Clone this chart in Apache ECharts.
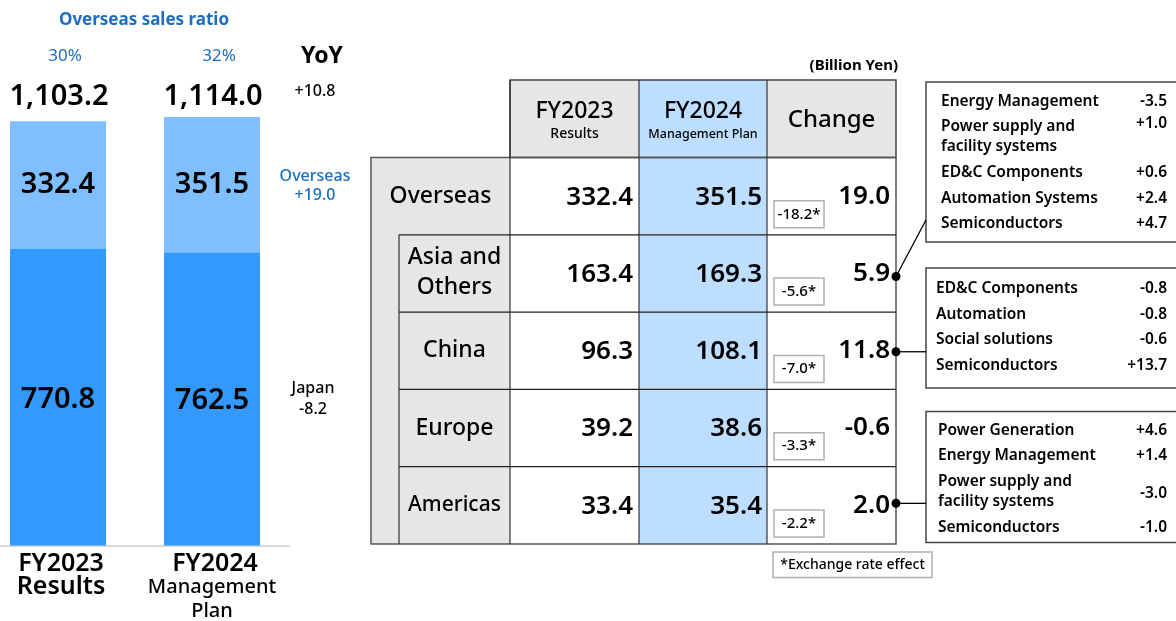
<!DOCTYPE html>
<html>
<head>
<meta charset="utf-8">
<script src="https://cdn.jsdelivr.net/npm/echarts@6/dist/echarts.min.js"></script>
<style>
  html, body { margin: 0; padding: 0; background: #fff; }
  #main { width: 1176px; height: 621px; }
</style>
</head>
<body>
<div id="main"></div>
<script>
// left: sales by year (Billion Yen)
var categories = ['FY2023', 'FY2024'];
var xLabelLines = [['FY2023', 'Results'], ['FY2024', 'Management', 'Plan']];
var japanSales = [770.8, 762.5];
var overseasSales = [332.4, 351.5];
var totalSales = ['1,103.2', '1,114.0'];
var overseasRatio = ['30%', '32%'];
var yoyTotal = '+10.8';
var yoyOverseas = '+19.0';
var yoyJapan = '-8.2';

// right: overseas breakdown table
var regions = ['Overseas', 'Asia and\nOthers', 'China', 'Europe', 'Americas'];
var fy2023Results = [332.4, 163.4, 96.3, 39.2, 33.4];
var fy2024Plan = [351.5, 169.3, 108.1, 38.6, 35.4];
var changeValues = [19.0, 5.9, 11.8, -0.6, 2.0];
var fxEffect = [-18.2, -5.6, -7.0, -3.3, -2.2];

var asiaBreakdown = [
  ['Energy Management', '-3.5'],
  ['Power supply and\nfacility systems', '+1.0'],
  ['ED&C Components', '+0.6'],
  ['Automation Systems', '+2.4'],
  ['Semiconductors', '+4.7']
];
var chinaBreakdown = [
  ['ED&C Components', '-0.8'],
  ['Automation', '-0.8'],
  ['Social solutions', '-0.6'],
  ['Semiconductors', '+13.7']
];
var americasBreakdown = [
  ['Power Generation', '+4.6'],
  ['Energy Management', '+1.4'],
  ['Power supply and\nfacility systems', '-3.0'],
  ['Semiconductors', '-1.0']
];

var FONT = '"Noto Sans", "Open Sans", sans-serif';
var BLUE_TEXT = '#1b6ec2';
var MID = 600;

var myChart = echarts.init(document.getElementById('main'));

myChart.setOption({
  animation: false,
  grid: { left: -19, width: 308, top: 84, bottom: 75.5, outerBoundsMode: 'none', containLabel: false },
  xAxis: {
    type: 'category',
    data: categories,
    axisTick: { show: false },
    axisLine: { lineStyle: { color: '#d9d9d9', width: 2 } },
    axisLabel: {
      margin: 6,
      interval: 0,
      formatter: function (v, i) {
        var lines = xLabelLines[i];
        return lines.map(function (s, k) {
          return k === 0 ? '{a|' + s + '}' : (lines.length > 2 ? '{c|' + s + '}' : '{b|' + s + '}');
        }).join('\n');
      },
      rich: {
        a: { fontSize: 25, lineHeight: 24, color: '#000', fontFamily: FONT, fontWeight: MID, padding: [0, 0, 0, 6] },
        b: { fontSize: 25, lineHeight: 23, color: '#000', fontFamily: FONT, fontWeight: MID, padding: [0, 0, 0, 6] },
        c: { fontSize: 20, lineHeight: 24, color: '#000', fontFamily: FONT, fontWeight: 500 }
      }
    }
  },
  yAxis: { type: 'value', min: 0, max: 1200, show: false },
  series: [
    {
      name: 'Japan',
      type: 'bar',
      stack: 'sales',
      barWidth: 96,
      data: japanSales,
      itemStyle: { color: '#3399ff' },
      label: {
        show: true, position: 'inside', color: '#000', fontSize: 29, fontFamily: FONT, fontWeight: MID,
        offset: [0, 2],
        formatter: function (p) { return p.value.toFixed(1); }
      }
    },
    {
      name: 'Overseas',
      type: 'bar',
      stack: 'sales',
      barWidth: 96,
      data: overseasSales,
      itemStyle: { color: '#7fbfff' },
      label: {
        show: true, position: 'inside', color: '#000', fontSize: 29, fontFamily: FONT, fontWeight: MID,
        formatter: function (p) { return p.value.toFixed(1); }
      }
    }
  ]
});

function txt(x, y, text, size, o) {
  o = o || {};
  return {
    type: 'text', x: x, y: y, z: 10,
    style: {
      text: text, fontSize: size, fontFamily: FONT,
      fontWeight: o.weight || (o.bold ? 'bold' : MID),
      fill: o.color || '#000',
      textAlign: o.align || 'center',
      textVerticalAlign: 'middle',
      lineHeight: o.lh || Math.round(size * 1.25)
    }
  };
}
function rect(x, y, w, h, fill, stroke, lw) {
  return {
    type: 'rect', z: 1,
    shape: { x: x, y: y, width: w, height: h },
    style: { fill: fill || 'none', stroke: stroke || null, lineWidth: lw || 1 }
  };
}
function line(x1, y1, x2, y2, color, lw) {
  return {
    type: 'line', z: 3,
    shape: { x1: x1, y1: y1, x2: x2, y2: y2 },
    style: { stroke: color || '#333', lineWidth: lw || 1 }
  };
}

var g = [];

// left side texts
g.push(txt(144, 20, 'Overseas sales ratio', 17, { bold: true, color: BLUE_TEXT }));
categories.forEach(function (c, i) {
  var cx = myChart.convertToPixel({ xAxisIndex: 0 }, i);
  g.push(txt(cx + 7, 56, overseasRatio[i], 17, { color: BLUE_TEXT, weight: 'normal' }));
  g.push(txt(cx + 1, 97, totalSales[i], 29));
});
g.push(txt(322, 56, 'YoY', 23, { bold: true }));
g.push(txt(315, 91, yoyTotal, 16, { weight: 500 }));
g.push(txt(315, 186, 'Overseas\n' + yoyOverseas, 16, { color: BLUE_TEXT, lh: 19, weight: 500 }));
g.push(txt(313, 399, 'Japan\n' + yoyJapan, 16, { lh: 21, weight: 500 }));

// table geometry
var colX = [371, 510, 639, 767, 896];
var innerX = 399;
var headTop = 80;
var rowTop = 157.5;
var rowH = 77.3;
var tableBottom = rowTop + rowH * regions.length;
var GREY = '#e6e6e6';
var LIGHTBLUE = '#bddeff';

// backgrounds
g.push(rect(colX[1], headTop, colX[2] - colX[1], rowTop - headTop, GREY));
g.push(rect(colX[2], headTop, colX[3] - colX[2], tableBottom - headTop, LIGHTBLUE));
g.push(rect(colX[3], headTop, colX[4] - colX[3], rowTop - headTop, GREY));
g.push(rect(colX[0], rowTop, colX[1] - colX[0], tableBottom - rowTop, GREY));

// grid lines
g.push(rect(colX[1], headTop, colX[4] - colX[1], rowTop - headTop, null, '#444', 1.5));
g.push(rect(colX[0], rowTop, colX[4] - colX[0], tableBottom - rowTop, null, '#555', 1.5));
for (var c = 1; c <= 3; c++) {
  g.push(line(colX[c], headTop, colX[c], tableBottom, '#333', 1.2));
}
g.push(line(innerX, rowTop + rowH, innerX, tableBottom, '#333', 1.2));
for (var r = 1; r < regions.length; r++) {
  g.push(line(innerX, rowTop + rowH * r, colX[4], rowTop + rowH * r, '#222', 1.2));
}

// header texts
var hc1 = (colX[1] + colX[2]) / 2, hc2 = (colX[2] + colX[3]) / 2, hc3 = (colX[3] + colX[4]) / 2;
g.push(txt(hc1, 111, 'FY2023', 23, { weight: 500 }));
g.push(txt(hc1, 134, 'Results', 14, { weight: 500 }));
g.push(txt(hc2, 111, 'FY2024', 23, { weight: 500 }));
g.push(txt(hc2, 134, 'Management Plan', 12.5, { weight: 500 }));
g.push(txt(hc3, 120, 'Change', 24, { weight: 500 }));
g.push(txt(898, 66, '(Billion Yen)', 15, { bold: true, align: 'right' }));

// rows
regions.forEach(function (name, i) {
  var top = rowTop + rowH * i;
  var cy = top + rowH / 2;
  var lx = i === 0 ? (colX[0] + colX[1]) / 2 : (innerX + colX[1]) / 2;
  var fs = name === 'Americas' ? 21 : 23;
  g.push(txt(lx, cy + (i === 1 ? -1 : 0), name, fs, { lh: 30, weight: 500 }));
  g.push(txt(colX[2] - 6, cy + 1, fy2023Results[i].toFixed(1), 26, { align: 'right' }));
  g.push(txt(colX[3] - 5, cy + 1, fy2024Plan[i].toFixed(1), 26, { align: 'right' }));
  g.push(txt(colX[4] - 6, cy, changeValues[i].toFixed(1), 26, { align: 'right' }));
  // exchange rate effect box
  var bb = top + rowH - 7;
  g.push(rect(774, bb - 27, 50, 27, '#fff', '#b0b0b0', 1.5));
  g.push(txt(799, bb - 13.5, fxEffect[i].toFixed(1) + '*', 15, { weight: 500 }));
});

// footnote
g.push(rect(773, 552, 159, 25.5, '#fff', '#b0b0b0', 1.5));
g.push(txt(852.5, 565, '*Exchange rate effect', 14, { weight: 500 }));

// breakdown boxes
function breakdownBox(items, x, y, h, textX, firstY, valueMode) {
  g.push(rect(x, y, 1176 - x + 2, h, '#fff', '#444', 1.5));
  var yy = firstY;
  items.forEach(function (it) {
    var n = it[0].split('\n').length;
    g.push(txt(textX, yy + (n - 1) * 10, it[0], 15.5, { weight: 600, align: 'left', lh: 20 }));
    var vy = n > 1 ? (valueMode === 'top' ? yy - 3 : yy + 12) : yy;
    g.push(txt(1167, vy, it[1], 15.5, { weight: 600, align: 'right' }));
    yy += 25.5 + (n - 1) * 20.5;
  });
}
breakdownBox(asiaBreakdown, 926, 82, 160, 941, 101.5, 'top');
breakdownBox(chinaBreakdown, 926, 268, 120, 936, 289, 'middle');
breakdownBox(americasBreakdown, 926, 411.5, 131, 938, 430.5, 'middle');

// connectors
var asiaY = rowTop + rowH * 1.5 + 3;
var chinaY = rowTop + rowH * 2.5 + 1;
var americasY = rowTop + rowH * 4.5 - 2;
g.push(line(colX[4], asiaY, 926, 220, '#000', 1.3));
g.push(line(colX[4], chinaY, 926, chinaY, '#000', 1.3));
g.push(line(colX[4], americasY, 926, americasY, '#000', 1.3));
[asiaY, chinaY, americasY].forEach(function (yy) {
  g.push({ type: 'circle', z: 5, shape: { cx: colX[4], cy: yy, r: 4.5 }, style: { fill: '#000' } });
});

myChart.setOption({ graphic: g });
</script>
</body>
</html>
